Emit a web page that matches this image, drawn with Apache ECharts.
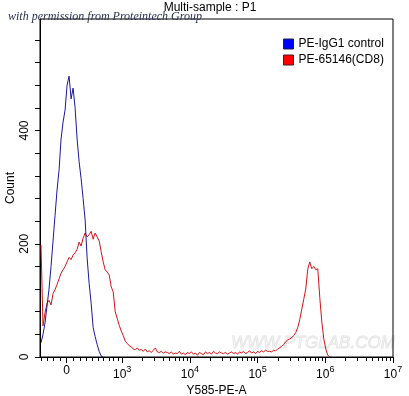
<!DOCTYPE html>
<html><head><meta charset="utf-8">
<script src="https://cdn.jsdelivr.net/npm/echarts@6/dist/echarts.min.js"></script>
<style>html,body{margin:0;padding:0;background:#fff}#c{width:409px;height:396px}</style>
</head><body><div id="c"></div>
<script>
// ---- data ----
const seriesNames = ['PE-IgG1 control', 'PE-65146(CD8)'];
// histogram counts per display channel (channel 0 = left edge of the plot)
const controlCounts = [25,40,60,90,120,160,205,250,295,330,385,415,436,480,496,456,475,440,385,345,315,280,242,175,130,95,52,36,22,10,2,0];
const cd8Counts = [
198,55,78,95,100,92,112,119,128,138,
148,154,160,168,176,172,180,184,190,203,
196,210,219,212,216,222,208,219,212,205,
186,168,154,150,145,124,115,80,68,56,
46,38,28,24,20,18,14,13,16,12,
13,10,14,9,11,8,12,16,9,8,
10,7,9,8,6,9,5,7,6,10,
5,7,4,8,6,9,5,7,3,8,
6,4,9,6,8,5,10,7,6,9,
7,6,8,5,7,9,6,8,5,9,
7,10,6,8,11,7,9,6,10,8,
11,9,12,10,10,9,12,11,14,16,
19,22,27,30,32,34,38,43,52,66,
84,102,120,155,168,156,160,154,156,105,
62,32,14,3,0];
const majorTickValues = [0, 1e3, 1e4, 1e5, 1e6, 1e7];
const minorTickValues = [-400,-300,-200,-100,100,200,300,400,500,600,700,800,900,
  2e3,3e3,4e3,5e3,6e3,7e3,8e3,9e3,
  2e4,3e4,4e4,5e4,6e4,7e4,8e4,9e4,
  2e5,3e5,4e5,5e5,6e5,7e5,8e5,9e5,
  2e6,3e6,4e6,5e6,6e6,7e6,8e6,9e6];
const yTickValues = [0,40,80,120,160,200,240,280,320,360,400,440,480,520,560];
const yLabelValues = [0,200,400];

// ---- biexponential display scale ----
const D_MIN = 1.786, D_MAX = 7, N_CHANNELS = 176;
const CH_W = (D_MAX - D_MIN) / N_CHANNELS;
function toDisplay(v) { return v >= 1000 ? Math.log10(v) : 2.18 + 0.762 * Math.asinh(v / 770); }
function chX(i) { return D_MIN + (i + 0.5) * CH_W; }

const chart = echarts.init(document.getElementById('c'), null, {renderer: 'canvas'});
const FONT = 'Liberation Sans, Arial, sans-serif';
const zeroD = toDisplay(0);

function xLabel(val) {
  if (Math.abs(val - zeroD) < 1e-6) return '0';
  return '{b|10}{s|' + Math.round(val) + '}';
}

chart.setOption({
  animation: false,
  backgroundColor: '#fff',
  grid: {left: 40, right: 16, top: 19, bottom: 39, containLabel: false, outerBoundsMode: 'none',
    show: true, borderColor: '#000', borderWidth: 1, backgroundColor: 'transparent'},
  legend: {
    orient: 'vertical', left: 283, top: 38, itemWidth: 10, itemHeight: 10, itemGap: 4, padding: 0,
    icon: 'rect',
    textStyle: {fontSize: 12, fontFamily: FONT, color: '#000'},
    data: [
      {name: seriesNames[0], itemStyle: {color: '#0000ff', borderColor: '#202040', borderWidth: 1}},
      {name: seriesNames[1], itemStyle: {color: '#ff0000', borderColor: '#402020', borderWidth: 1}}
    ]
  },
  xAxis: [{
    type: 'value', min: D_MIN, max: D_MAX,
    axisLine: {lineStyle: {color: '#000', width: 1}},
    splitLine: {show: false},
    axisTick: {show: true, inside: false, length: 4, lineStyle: {color: '#000'},
      customValues: minorTickValues.map(toDisplay)},
    axisLabel: {show: false},
    name: 'Y585-PE-A', nameLocation: 'middle', nameGap: 28, nameMoveOverlap: false,
    nameTextStyle: {fontSize: 12, fontFamily: FONT, color: '#000'}
  }, {
    type: 'value', min: D_MIN, max: D_MAX, position: 'bottom',
    axisLine: {show: false},
    splitLine: {show: false},
    axisTick: {show: true, length: 6, lineStyle: {color: '#000'},
      customValues: majorTickValues.map(toDisplay)},
    axisLabel: {show: true, margin: 8, color: '#000', fontFamily: FONT, fontSize: 12,
      customValues: majorTickValues.map(toDisplay),
      formatter: xLabel,
      rich: {
        b: {fontSize: 12, fontFamily: FONT, color: '#000', verticalAlign: 'bottom', lineHeight: 16},
        s: {fontSize: 9, fontFamily: FONT, color: '#000', verticalAlign: 'top', lineHeight: 16}
      }}
  }],
  yAxis: {
    type: 'value', min: 0, max: 597,
    axisLine: {show: true, lineStyle: {color: '#000'}},
    splitLine: {show: false},
    axisTick: {show: true, length: 5, lineStyle: {color: '#000'}, customValues: yTickValues},
    axisLabel: {rotate: 90, margin: 9, color: '#000', fontFamily: FONT, fontSize: 12, customValues: yLabelValues},
    name: 'Count', nameLocation: 'middle', nameGap: 23, nameMoveOverlap: false,
    nameTextStyle: {fontSize: 12, fontFamily: FONT, color: '#000'}
  },
  graphic: [
    {type: 'text', x: 210, y: 2, style: {text: 'Multi-sample : P1', textAlign: 'center', textVerticalAlign: 'top', font: '12px ' + FONT, fill: '#000'}, silent: true},
    {type: 'text', x: 8, y: 17, style: {text: 'with permission from Proteintech Group', textVerticalAlign: 'middle', font: 'italic 12px "Liberation Serif", serif', fill: '#2c3050'}, silent: true},
    {type: 'text', z: -1, x: 313, y: 343, style: {text: 'WWW.PTGLAB.COM', textAlign: 'center', textVerticalAlign: 'middle', font: 'italic 17px ' + FONT, fill: 'rgba(255,255,255,0)', stroke: '#e6e6e6', lineWidth: 1}, silent: true}
  ],
  series: [
    {name: seriesNames[0], type: 'line', xAxisIndex: 0, showSymbol: false, symbol: 'none',
      itemStyle: {color: '#0000ff'}, lineStyle: {color: '#1a1a9a', width: 1},
      data: controlCounts.map((c, i) => [chX(i), c]), z: 3},
    {name: seriesNames[1], type: 'line', xAxisIndex: 0, showSymbol: false, symbol: 'none',
      itemStyle: {color: '#ff0000'}, lineStyle: {color: '#d01515', width: 1},
      data: cd8Counts.map((c, i) => [chX(i), c]), z: 2}
  ]
});
</script></body></html>
